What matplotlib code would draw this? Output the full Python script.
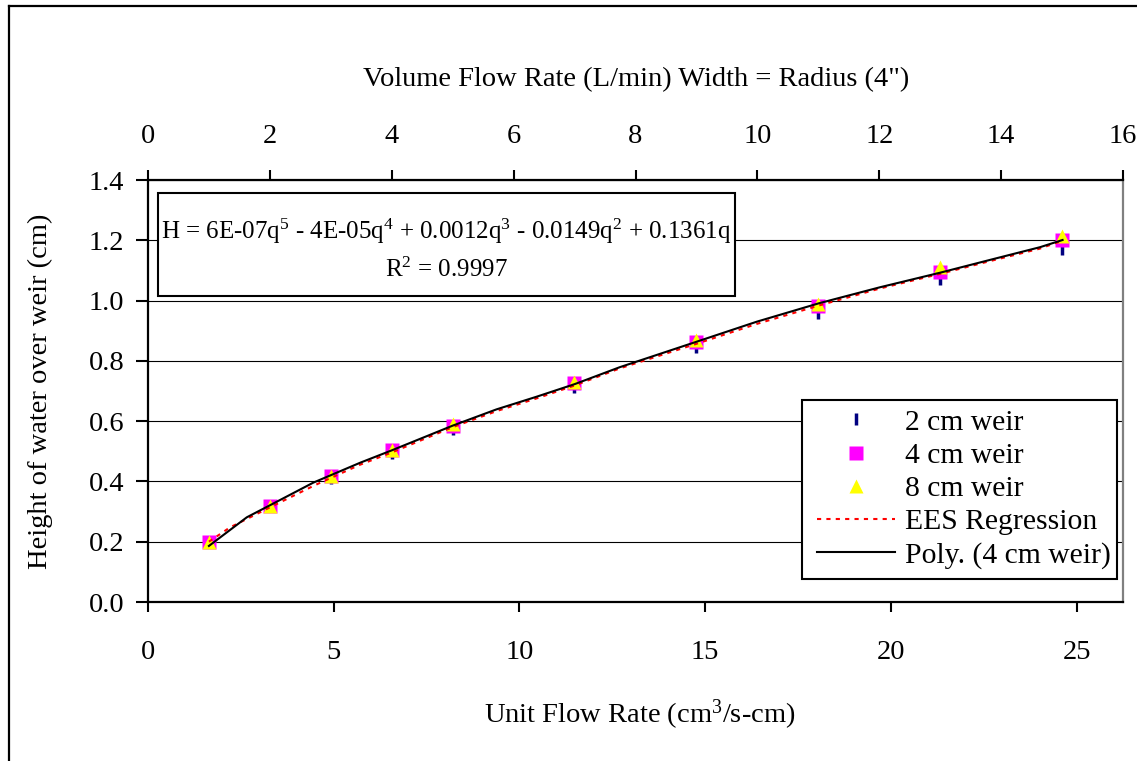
import matplotlib
matplotlib.use("Agg")
import matplotlib.pyplot as plt
from matplotlib.lines import Line2D
from matplotlib.patches import Rectangle

plt.rcParams['font.family'] = 'Liberation Serif'
plt.rcParams['mathtext.fontset'] = 'custom'
plt.rcParams['mathtext.rm'] = 'Liberation Serif'
plt.rcParams['mathtext.it'] = 'Liberation Serif:italic'

# unit flow rate q (cm^3/s-cm) at each measured point
q_pts = [1.64, 3.28, 4.92, 6.56, 8.20, 11.48, 14.76, 18.04, 21.33, 24.61]
# height of water over weir (cm)
h_2cm = [0.200, 0.320, 0.410, 0.495, 0.575, 0.713, 0.845, 0.958, 1.072, 1.172]
h_4cm = [0.199, 0.318, 0.418, 0.504, 0.585, 0.728, 0.863, 0.982, 1.096, 1.201]
h_8cm = [0.199, 0.318, 0.419, 0.505, 0.590, 0.730, 0.869, 0.990, 1.110, 1.214]

# trendline (poly fit of 4 cm weir)
q_poly = [1.64, 2.66, 3.30, 4.45, 5.71, 6.58, 8.20, 9.38, 10.46, 11.49,
          12.70, 14.78, 16.39, 18.06, 19.70, 21.34, 22.70, 24.01, 24.62]
h_poly = [0.186, 0.281, 0.322, 0.396, 0.462, 0.504, 0.585, 0.639, 0.681, 0.723,
          0.779, 0.864, 0.930, 0.991, 1.044, 1.093, 1.136, 1.177, 1.201]

# EES regression curve
q_ees = [1.64, 2.20, 3.30, 4.50, 5.70, 6.60, 8.20, 9.40, 10.50, 11.50,
         12.70, 14.80, 16.40, 18.10, 19.70, 21.30, 22.70, 24.00, 24.62]
h_ees = [0.200, 0.247, 0.315, 0.388, 0.455, 0.498, 0.580, 0.634, 0.677, 0.719,
         0.775, 0.858, 0.923, 0.985, 1.040, 1.088, 1.132, 1.172, 1.199]

top_ticks = [0, 2, 4, 6, 8, 10, 12, 14, 16]
bottom_ticks = [0, 5, 10, 15, 20, 25]
y_ticks = [0.0, 0.2, 0.4, 0.6, 0.8, 1.0, 1.2, 1.4]

# width = 4 in = 10.16 cm -> L/min per (cm^3/s-cm)
conv = 10.16 * 60 / 1000.0
q_max = top_ticks[-1] / conv

W, H = 1137, 761
fs = 20.5

fig = plt.figure(figsize=(W / 100, H / 100), dpi=100)
ax = fig.add_axes([148 / W, 1 - 602 / H, (1123 - 148) / W, (602 - 180) / H])

ax.plot(q_pts, h_2cm, ls='none', marker='|', ms=8, mew=2.5, color='#000080',
        label='2 cm weir', zorder=3)
ax.plot(q_pts, h_4cm, ls='none', marker='s', ms=10, mec='none', color='#FF00FF',
        label='4 cm weir', zorder=4)
ax.plot(q_pts, h_8cm, ls='none', marker='^', ms=10, mec='none', color='#FFFF00',
        label='8 cm weir', zorder=5)
ax.plot(q_ees, h_ees, color='#FF0000', lw=1.5, ls=(0, (2, 2.5)),
        label='EES Regression', zorder=6)
ax.plot(q_poly, h_poly, color='black', lw=1.5, label='Poly. (4 cm weir)', zorder=7)

ax.set_xlim(0, q_max)
ax.set_ylim(0, 1.4)
ax.set_xticks(bottom_ticks)
ax.set_yticks(y_ticks)
ax.set_yticklabels(['%.1f' % v for v in y_ticks])
ax.grid(axis='y', color='black', lw=0.8)
ax.set_axisbelow(True)

ax.tick_params(axis='x', direction='out', length=7.5, width=1.5, pad=20, labelsize=fs)
ax.tick_params(axis='y', direction='out', length=8.5, width=1.5, pad=8.5, labelsize=fs)
for s in ['left', 'bottom']:
    ax.spines[s].set_linewidth(1.6)
ax.spines['top'].set_visible(False)
ax.spines['right'].set_color('#808080')
ax.spines['right'].set_linewidth(1.6)

ax2 = ax.twiny()
ax2.set_xlim(0, top_ticks[-1])
ax2.set_xticks(top_ticks)
ax2.tick_params(axis='x', direction='out', length=7.5, width=1.5, pad=15, labelsize=fs)
for s in ['left', 'bottom', 'right']:
    ax2.spines[s].set_visible(False)
ax2.spines['top'].set_linewidth(1.6)

# legend: entries without frame, box drawn separately
leg = ax.legend(loc='center left', bbox_to_anchor=(817 / W, 1 - 489 / H),
                bbox_transform=fig.transFigure, borderaxespad=0, borderpad=0,
                fontsize=21.3, frameon=False, numpoints=1,
                handlelength=2.64, handletextpad=0.34, labelspacing=0.22)
leg.set_zorder(9)
ax.add_patch(Rectangle((802 / W, 1 - 579 / H), 315 / W, 179 / H,
                       transform=fig.transFigure, facecolor='white',
                       edgecolor='black', lw=1.5, zorder=8, clip_on=False))

fig.text(636 / W, 1 - 80 / H, 'Volume Flow Rate (L/min) Width = Radius (4")',
         ha='center', va='center', fontsize=fs)
fig.text(640 / W, 1 - 715 / H, 'Unit Flow Rate (cm$^3$/s-cm)',
         ha='center', va='center', fontsize=fs)
fig.text(40 / W, 1 - 391 / H, 'Height of water over weir (cm)',
         ha='center', va='center', rotation=90, fontsize=fs)

# trendline equation box
fig.add_artist(Rectangle((158 / W, 1 - 296 / H), 577 / W, 103 / H,
                         transform=fig.transFigure, facecolor='white',
                         edgecolor='black', lw=1.5, zorder=10))
fig.text(446 / W, 1 - 231 / H,
         'H = 6E-07q$^5$ - 4E-05q$^4$ + 0.0012q$^3$ - 0.0149q$^2$ + 0.1361q',
         ha='center', va='center', fontsize=18, zorder=11)
fig.text(446 / W, 1 - 270 / H, 'R$^2$ = 0.9997',
         ha='center', va='center', fontsize=18, zorder=11)

# outer chart frame (cut by the image edge on the right and bottom)
fig.add_artist(Line2D([9 / W, 9 / W], [0, 1 - 6 / H], color='black', lw=1.6))
fig.add_artist(Line2D([9 / W, 1], [1 - 6 / H, 1 - 6 / H], color='black', lw=1.6))

fig.savefig('out.png', dpi=100)
